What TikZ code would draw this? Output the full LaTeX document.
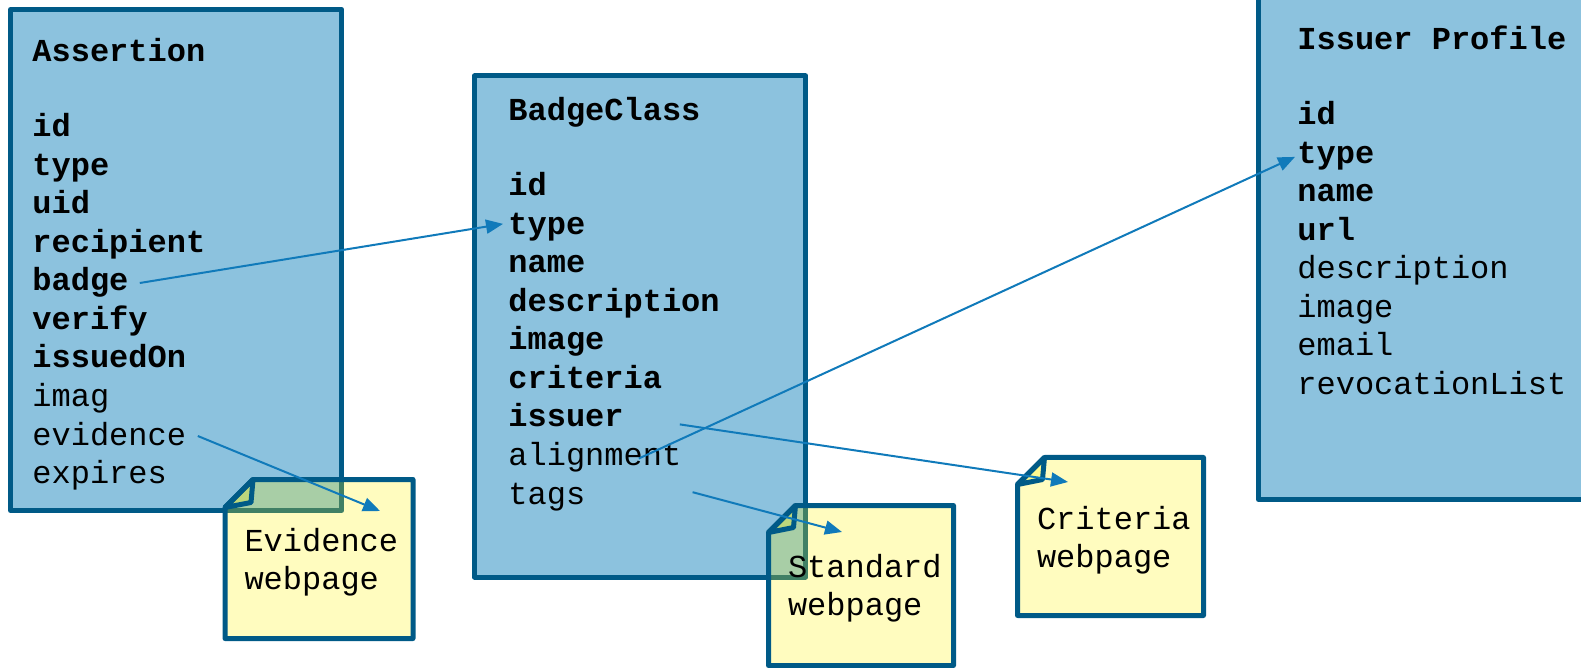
\documentclass[tikz,border=0pt]{standalone}
\usepackage{fontspec}
\setmonofont{Liberation Mono}
\usetikzlibrary{arrows.meta}
\definecolor{boxedge}{RGB}{0,90,135}
\definecolor{boxfill}{RGB}{140,194,222}
\definecolor{linkblue}{RGB}{16,122,186}

\begin{document}
\begin{tikzpicture}[x=0.5pt, y=-0.5pt,
  box/.style = {draw=boxedge, fill=boxfill, line width=2.5pt, line join=round, outer sep=0pt, anchor=north west, minimum width=165.6pt, minimum height=250.5pt},
  field/.style = {anchor=base west, inner sep=0pt, font=\ttfamily\fontsize{16}{19}\selectfont},
  req/.style = {field, font=\ttfamily\bfseries\fontsize{16}{19}\selectfont},
  noteline/.style = {draw=boxedge, line width=2.5pt, line join=round, fill=yellow, fill opacity=0.25},
  notetext/.style = {anchor=north west, outer sep=0pt, inner xsep=9.75pt, text width=74pt, minimum height=79.5pt, yshift=-1.5pt, align=left, font=\ttfamily\fontsize{16}{19.25}\selectfont},
  link/.style = {draw=linkblue, line width=1pt, -{Triangle[length=8.5pt, width=7pt]}}]
\useasboundingbox (0,0) rectangle (1581,668);
\clip (0,0) rectangle (1581,668);

% the three classes
\node[box] (assertion) at (10.5,9.5) {};
\node[box] (badgeclass) at (474.5,76) {};
\node[box, minimum height=254.75pt] (issuer) at (1258.5,-10) {};

\node[req] (a-title) at (32,62) {Assertion};
\node[req] (a-id) at ([yshift=-37.5pt]a-title.base west) {id};
\node[req] (a-type) at ([yshift=-19.25pt]a-id.base west) {type};
\node[req] (a-uid) at ([yshift=-19.25pt]a-type.base west) {uid};
\node[req] (a-recipient) at ([yshift=-19.25pt]a-uid.base west) {recipient};
\node[req] (a-badge) at ([yshift=-19.25pt]a-recipient.base west) {badge};
\node[req] (a-verify) at ([yshift=-19.25pt]a-badge.base west) {verify};
\node[req] (a-issuedon) at ([yshift=-19.25pt]a-verify.base west) {issuedOn};
\node[field] (a-imag) at ([yshift=-19.25pt]a-issuedon.base west) {imag};
\node[field] (a-evidence) at ([yshift=-19.25pt]a-imag.base west) {evidence};
\node[field] (a-expires) at ([yshift=-19.25pt]a-evidence.base west) {expires};

\node[req] (b-title) at (508,121) {BadgeClass};
\node[req] (b-id) at ([yshift=-37.5pt]b-title.base west) {id};
\node[req] (b-type) at ([yshift=-19.25pt]b-id.base west) {type};
\node[req] (b-name) at ([yshift=-19.25pt]b-type.base west) {name};
\node[req] (b-description) at ([yshift=-19.25pt]b-name.base west) {description};
\node[req] (b-image) at ([yshift=-19.25pt]b-description.base west) {image};
\node[req] (b-criteria) at ([yshift=-19.25pt]b-image.base west) {criteria};
\node[req] (b-issuer) at ([yshift=-19.25pt]b-criteria.base west) {issuer};
\node[field] (b-alignment) at ([yshift=-19.25pt]b-issuer.base west) {alignment};
\node[field] (b-tags) at ([yshift=-19.25pt]b-alignment.base west) {tags};

\node[req] (i-title) at (1297,50) {Issuer Profile};
\node[req] (i-id) at ([yshift=-37.5pt]i-title.base west) {id};
\node[req] (i-type) at ([yshift=-19.25pt]i-id.base west) {type};
\node[req] (i-name) at ([yshift=-19.25pt]i-type.base west) {name};
\node[req] (i-url) at ([yshift=-19.25pt]i-name.base west) {url};
\node[field] (i-description) at ([yshift=-19.25pt]i-url.base west) {description};
\node[field] (i-image) at ([yshift=-19.25pt]i-description.base west) {image};
\node[field] (i-email) at ([yshift=-19.25pt]i-image.base west) {email};
\node[field] (i-revocation) at ([yshift=-19.25pt]i-email.base west) {revocationList};

% the web pages, with a folded corner
\coordinate (evidence) at (225,479.5);
\coordinate (standard) at (768.5,505.5);
\coordinate (criteria) at (1017.5,457.5);
\draw[noteline] (evidence) ++(0,28) -- ++(28,-28) -- ++(160,0) -- ++(0,159) -- ++(-188,0) -- cycle;
\draw[noteline] (evidence) ++(0,28) -- ++(28,-28) -- ++(-2,23) -- cycle;
\draw[noteline] (standard) ++(0,27) -- ++(27,-27) -- ++(158,0) -- ++(0,160) -- ++(-185,0) -- cycle;
\draw[noteline] (standard) ++(0,27) -- ++(27,-27) -- ++(-2,22) -- cycle;
\draw[noteline] (criteria) ++(0,27) -- ++(27,-27) -- ++(159,0) -- ++(0,158) -- ++(-186,0) -- cycle;
\draw[noteline] (criteria) ++(0,27) -- ++(27,-27) -- ++(-2,22) -- cycle;
\node[notetext] (evidence-text) at (evidence) {Evidence\\webpage};
\node[notetext] (standard-text) at (standard) {Standard\\webpage};
\node[notetext] (criteria-text) at (criteria) {Criteria\\webpage};

% links
\draw[link] ([xshift=5.5pt, yshift=4pt]a-badge.base east) -- ([xshift=-2.5pt, yshift=5.3pt]b-type.base west);
\draw[link] ([xshift=5.7pt, yshift=4.5pt]a-evidence.base east) -- ([xshift=77.5pt, yshift=-15.75pt]evidence);
\draw[link] ([xshift=-21.4pt, yshift=3.5pt]b-alignment.base east) -- ([xshift=-1pt, yshift=3.3pt]i-type.base west);
\draw[link] ([xshift=27.9pt, yshift=1.3pt]b-issuer.base east) -- ([xshift=25.25pt, yshift=-12.25pt]criteria);
\draw[link] ([xshift=53.5pt, yshift=5.9pt]b-tags.base east) -- ([xshift=36.75pt, yshift=-13.25pt]standard);
\end{tikzpicture}
\end{document}
